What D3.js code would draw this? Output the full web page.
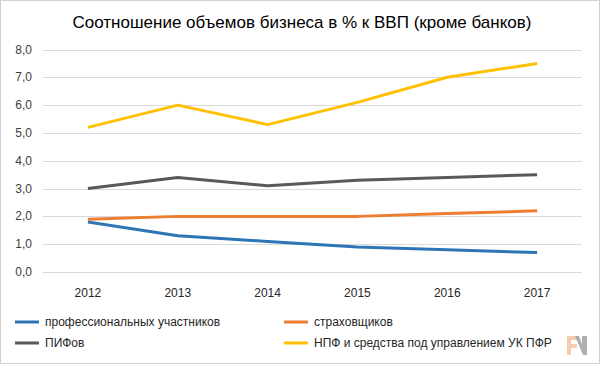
<!DOCTYPE html>
<html>
<head>
<meta charset="utf-8">
<script src="https://cdn.jsdelivr.net/npm/d3@7"></script>
<style>
  body { margin: 0; background: #fff; }
  text { font-family: "Liberation Sans", Arial, sans-serif; }
</style>
</head>
<body>
<div id="chart"></div>
<script>
// data
var years = ["2012", "2013", "2014", "2015", "2016", "2017"];
var profUch = [1.8, 1.3, 1.1, 0.9, 0.8, 0.7];
var strah = [1.9, 2.0, 2.0, 2.0, 2.1, 2.2];
var pifov = [3.0, 3.4, 3.1, 3.3, 3.4, 3.5];
var npf = [5.2, 6.0, 5.3, 6.1, 7.0, 7.5];
var yTicks = [0, 1, 2, 3, 4, 5, 6, 7, 8];

var series = [
    { name: "профессиональных участников", values: profUch, color: "#2E75B6" },
    { name: "страховщиков", values: strah, color: "#ED7D31" },
    { name: "ПИФов", values: pifov, color: "#595959" },
    { name: "НПФ и средства под управлением УК ПФР", values: npf, color: "#FFC000" }
];

var W = 600, H = 365;
var svg = d3.select("#chart").append("svg")
    .attr("width", W)
    .attr("height", H);

// outer frame
svg.append("rect")
    .attr("x", 0.5).attr("y", 0.5)
    .attr("width", W - 1).attr("height", H - 2)
    .attr("fill", "#fff")
    .attr("stroke", "#d0d0d0");

var x = d3.scaleBand().domain(years).range([43, 582]);
var y = d3.scaleLinear().domain([0, 8]).range([272, 49.5]);

// gridlines
svg.append("g").selectAll("line")
    .data(yTicks)
    .enter().append("line")
    .attr("x1", 43).attr("x2", 582)
    .attr("y1", function (d) { return Math.round(y(d)) + 0.5; })
    .attr("y2", function (d) { return Math.round(y(d)) + 0.5; })
    .attr("stroke", "#d9d9d9")
    .attr("stroke-width", 1);

// y labels
var fmt = function (d) { return d3.format(".1f")(d).replace(".", ","); };
svg.append("g").selectAll("text")
    .data(yTicks)
    .enter().append("text")
    .attr("x", 32)
    .attr("y", function (d) { return y(d) + 4; })
    .attr("text-anchor", "end")
    .style("font-size", "12px")
    .style("fill", "#404040")
    .text(fmt);

// x labels
svg.append("g").selectAll("text")
    .data(years)
    .enter().append("text")
    .attr("x", function (d) { return x(d) + x.bandwidth() / 2; })
    .attr("y", 297)
    .attr("text-anchor", "middle")
    .style("font-size", "12px")
    .style("fill", "#262626")
    .text(function (d) { return d; });

// lines
var line = d3.line()
    .x(function (d, i) { return x(years[i]) + x.bandwidth() / 2; })
    .y(function (d) { return y(d); });

svg.append("g").selectAll("path")
    .data(series)
    .enter().append("path")
    .attr("d", function (s) { return line(s.values); })
    .attr("fill", "none")
    .attr("stroke", function (s) { return s.color; })
    .attr("stroke-width", 3)
    .attr("stroke-linejoin", "round");

// title
svg.append("text")
    .attr("x", 302)
    .attr("y", 28)
    .attr("text-anchor", "middle")
    .style("font-size", "17px")
    .style("fill", "#000")
    .text("Соотношение объемов бизнеса в % к ВВП (кроме банков)");

// legend
var legPos = [[15, 326], [284, 326], [15, 347], [284, 347]];
var leg = svg.append("g").selectAll("g")
    .data(series)
    .enter().append("g")
    .attr("transform", function (s, i) { return "translate(" + legPos[i][0] + "," + legPos[i][1] + ")"; });
leg.append("line")
    .attr("x1", 0).attr("x2", 24)
    .attr("y1", -4).attr("y2", -4)
    .attr("stroke", function (s) { return s.color; })
    .attr("stroke-width", 3);
leg.append("text")
    .attr("x", 30)
    .attr("y", 0)
    .style("font-size", "12px")
    .style("fill", "#262626")
    .text(function (s) { return s.name; });

// small logo bottom right
var logo = svg.append("g").attr("transform", "translate(567,336)");
logo.append("path")
    .attr("d", "M0,0 H12 V4 H4 V8 H10 V12 H4 V19 H0 Z")
    .attr("fill", "#F8CBAD");
logo.append("path")
    .attr("d", "M8,0 H12 L15,8 V0 H20 V19 H16 Z")
    .attr("fill", "#A6A6A6")
    .attr("opacity", 0.9);
</script>
</body>
</html>
